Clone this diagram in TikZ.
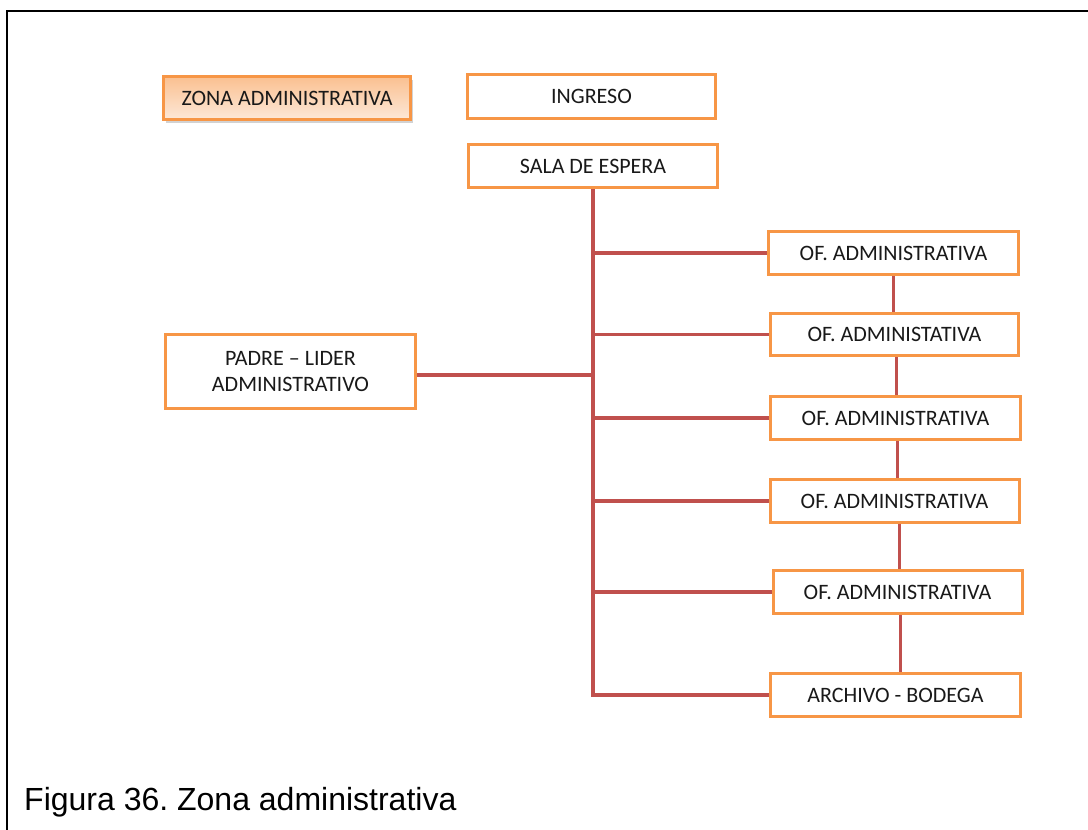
\documentclass[tikz,border=0pt]{standalone}
\usepackage{fontspec}
\setmainfont{Carlito}
\newfontfamily\capfont{Liberation Sans}
\usetikzlibrary{shadows}
\definecolor{boxorange}{RGB}{247,150,70}
\definecolor{linkred}{RGB}{192,80,77}
\definecolor{peachtop}{RGB}{250,192,144}
\definecolor{peachbot}{RGB}{253,232,216}
\tikzset{
  box/.style={draw=boxorange, line width=3pt, fill=white, minimum width=249pt, minimum height=43pt, inner sep=0pt, align=center, font=\fontsize{22}{26}\selectfont, text=black!90},
  zonebox/.style={box, top color=peachtop, bottom color=peachbot, drop shadow={shadow xshift=2pt, shadow yshift=-3pt, opacity=0.35}},
  link/.style={draw=linkred, line width=3.2pt}
}
\begin{document}
\frenchspacing
\begin{tikzpicture}[x=1pt,y=-1pt]
\useasboundingbox (0,0) rectangle (1088,830);
\fill[white] (0,0) rectangle (1088,830);
\draw[line width=2.5pt] (7,830) -- (7,11) -- (1088,11);

\node[zonebox, minimum width=247pt] (zona) at (287,98) {ZONA ADMINISTRATIVA};
\node[box, minimum width=248pt, minimum height=44pt] (ingreso) at (591.5,96.5) {INGRESO};
\node[box] (sala) at (593,166) {SALA DE ESPERA};
\node[box, minimum width=250pt, minimum height=74pt] (padre) at (290.5,371.5) {PADRE -- LIDER\\ADMINISTRATIVO};
\node[box, minimum width=250pt] (of1) at (893.5,253) {OF. ADMINISTRATIVA};
\node[box, minimum width=248pt, minimum height=42pt] (of2) at (894.5,334.5) {OF. ADMINISTATIVA};
\node[box, minimum width=250pt] (of3) at (895.5,418) {OF. ADMINISTRATIVA};
\node[box] (of4) at (894.5,501) {OF. ADMINISTRATIVA};
\node[box] (of5) at (897.5,592) {OF. ADMINISTRATIVA};
\node[box, minimum width=250pt] (arch) at (895.5,695) {ARCHIVO - BODEGA};

\draw[link] (sala.south) |- (arch.west);
\draw[link] (sala.south |- of1.west) -- (of1.west);
\draw[link] (sala.south |- of2.west) -- (of2.west);
\draw[link] (sala.south |- of3.west) -- (of3.west);
\draw[link] (sala.south |- of4.west) -- (of4.west);
\draw[link] (sala.south |- of5.west) -- (of5.west);
\draw[link] (padre.east |- 0,375) -- (sala.south |- 0,375);
\draw[link] (of1.south) -- (of1.south |- of2.north);
\draw[link] ([xshift=2pt]of2.south) -- ([xshift=2pt]of2.south |- of3.north);
\draw[link] ([xshift=2pt]of3.south) -- ([xshift=2pt]of3.south |- of4.north);
\draw[link] ([xshift=5pt]of4.south) -- ([xshift=5pt]of4.south |- of5.north);
\draw[link] ([xshift=3pt]of5.south) -- ([xshift=3pt]of5.south |- arch.north);

\node[anchor=base west, inner sep=0pt, font=\capfont\fontsize{32}{36}\selectfont] (cap) at (24,810) {Figura 36. Zona administrativa};
\end{tikzpicture}
\end{document}
